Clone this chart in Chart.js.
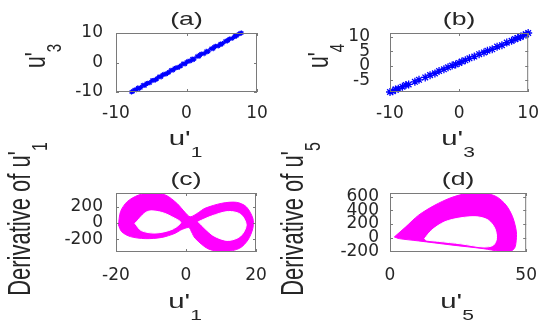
<!DOCTYPE html>
<html>
<head>
<meta charset="utf-8">
<script src="https://cdn.jsdelivr.net/npm/chart.js"></script>
<style>
  body { margin: 0; background: #fff; }
  #wrap { position: relative; width: 550px; height: 324px; }
  canvas { position: absolute; left: 0; top: 0; }
</style>
</head>
<body>
<div id="wrap">
  <canvas id="chartA" width="550" height="324"></canvas>
  <canvas id="chartB" width="550" height="324"></canvas>
  <canvas id="chartC" width="550" height="324"></canvas>
  <canvas id="chartD" width="550" height="324"></canvas>
</div>
<script>
// (a) u'3 against u'1
const u1A = [-7.8,-7.6,-7.4,-7.1,-6.9,-6.7,-6.5,-6.2,-5.9,-5.7,-5.5,-5.2,-4.9,-4.6,-4.4,-4.2,-3.9,-3.6,-3.4,-3.2,-2.9,-2.7,-2.5,-2.2,-1.9,-1.7,-1.5,-1.2,-1.0,-0.8,-0.5,-0.2,0.0,0.2,0.5,0.8,0.9,1.1,1.5,1.8,1.9,2.1,2.5,2.8,2.9,3.1,3.5,3.8,3.9,4.1,4.5,4.8,4.9,5.1,5.5,5.8,5.9,6.1,6.5,6.8,6.9,7.1,7.4,7.6,7.8];
const u3A = [-10.0,-9.8,-9.3,-9.2,-8.6,-8.8,-8.5,-7.7,-7.8,-7.2,-7.0,-6.9,-6.1,-6.0,-5.9,-5.5,-4.8,-4.9,-4.2,-4.0,-3.9,-3.6,-3.3,-2.6,-2.6,-2.0,-1.8,-1.7,-1.4,-1.1,-0.4,-0.5,0.1,0.4,0.5,1.2,0.9,1.2,2.1,2.1,2.6,2.9,3.0,3.8,3.6,3.8,4.7,4.7,5.2,5.5,5.6,6.3,6.1,6.4,7.2,7.3,7.6,8.0,8.2,8.8,8.9,9.0,9.6,9.9,10.0];

// (b) u'4 against u'3
const u3B = [-10.0,-9.6,-9.2,-8.8,-8.2,-7.7,-7.3,-6.4,-5.8,-4.9,-4.2,-3.5,-2.9,-2.2,-1.6,-1.0,-0.5,0.0,0.4,0.9,1.5,2.2,2.9,3.6,4.1,4.8,5.5,6.2,6.9,7.6,8.1,8.5,8.9,9.3,9.7,10.0];
const u4B = [-9.0,-8.7,-8.1,-7.9,-7.2,-6.6,-6.4,-5.5,-4.8,-4.0,-3.2,-2.6,-1.8,-1.2,-0.5,0.1,0.5,1.0,1.5,1.9,2.6,3.2,4.0,4.6,5.2,5.7,6.6,7.1,8.0,8.6,9.2,9.6,9.9,10.5,10.8,11.3];

// (c) derivative of u'1 against u'1 : outline of the band and its two holes
const outerCX = [-19.3,-18.7,-16.8,-13.5,-10.2,-5.9,-2.6,-0.3,1.2,3.5,5.4,10.2,14.4,17.2,19.1,19.1,17.7,15.3,11.1,6.4,2.6,1.6,0.8,-1.5,-3.1,-6.9,-11.6,-15.9,-18.4,-19.3];
const outerCY = [-24,138,259,340,364,340,239,130,75,125,178,239,251,198,57,-64,-206,-307,-347,-315,-185,-110,-55,-85,-125,-175,-190,-165,-105,-24];
const holeLX = [-14.6,-11.0,-6.9,-3.4,-1.5,-4.0,-8.8,-12.8,-14.6];
const holeLY = [-4,140,128,62,5,-78,-122,-92,-4];
const holeRX = [3.5,7.3,12.1,15.6,17.2,15.6,12.1,8.1,5.4,3.5];
const holeRY = [15,85,140,105,-24,-158,-212,-160,-66,15];

// (d) derivative of u'5 against u'5
const outerDX = [1.6,5.8,10.5,16.5,22.4,28.4,34.3,39.1,42.6,45.0,46.4,46.2,45.6,43.7,40.2,34.3,22.4,10.5,3.4,1.6];
const outerDY = [10,158,330,478,587,651,656,602,478,306,84,-89,-163,-209,-202,-163,-108,-49,-15,10];
const holeDX = [12.7,15.3,20.1,26.0,31.9,36.1,38.5,39.1,37.9,34.3,26.0,17.7,13.2,12.7];
const holeDY = [-15,108,232,291,306,256,133,-15,-114,-138,-92,-55,-35,-15];

// tick values
const ticksA = { x: [-10, 0, 10], y: [-10, 0, 10] };
const ticksB = { x: [-10, 0, 10], y: [-5, 0, 5, 10] };
const ticksC = { x: [-20, 0, 20], y: [-200, 0, 200] };
const ticksD = { x: [0, 50], y: [-200, 0, 200, 400, 600] };

const BLUE = '#0000ff';
const MAGENTA = '#ff00ff';
const STRETCH = 1.4;

Chart.defaults.font.family = '"DejaVu Sans", sans-serif';
Chart.defaults.font.size = 17;
Chart.defaults.color = '#262626';

const pts = (xs, ys) => xs.map((v, i) => ({ x: v, y: ys[i] }));

function stars(xs, ys, r, bw) {
  return { data: pts(xs, ys), pointStyle: 'star', pointRadius: r, borderColor: BLUE,
           backgroundColor: BLUE, borderWidth: bw, showLine: false, clip: false };
}

function shape(xs, ys, col, order) {
  return { data: pts(xs, ys), showLine: true, fill: 'shape', tension: 0.3, pointRadius: 0,
           borderColor: col, backgroundColor: col, borderWidth: 1, order: order };
}

// text squeezed like the source figure (it was stretched sideways)
function label(ctx, main, sub, x, y, size, vertical) {
  ctx.save();
  ctx.translate(x, y);
  ctx.scale(STRETCH, 1);
  if (vertical) ctx.rotate(-Math.PI / 2);
  const subSize = Math.round(size * 0.72);
  ctx.font = size + 'px "Liberation Sans"';
  const w1 = ctx.measureText(main).width;
  ctx.font = subSize + 'px "Liberation Sans"';
  const w2 = sub ? ctx.measureText(sub).width : 0;
  const start = -(w1 + w2) / 2;
  ctx.fillStyle = '#262626';
  ctx.textAlign = 'left';
  ctx.textBaseline = 'alphabetic';
  ctx.font = size + 'px "Liberation Sans"';
  ctx.fillText(main, start, 0);
  if (sub) {
    ctx.font = subSize + 'px "Liberation Sans"';
    ctx.fillText(sub, start + w1, size * 0.55);
  }
  ctx.restore();
}

const frame = {
  id: 'frame',
  afterDatasetsDraw(chart, args, o) {
    const { ctx, chartArea: a } = chart;
    const sx = chart.scales.x, sy = chart.scales.y;
    ctx.save();
    ctx.strokeStyle = '#7a7a7a';
    ctx.lineWidth = 1;
    ctx.strokeRect(a.left + 0.5, a.top + 0.5, a.width - 1, a.height - 1);
    ctx.beginPath();
    sx.ticks.forEach(t => {
      const p = Math.round(sx.getPixelForValue(t.value)) + 0.5;
      ctx.moveTo(p, a.bottom); ctx.lineTo(p, a.bottom - 3);
      ctx.moveTo(p, a.top); ctx.lineTo(p, a.top + 3);
    });
    sy.ticks.forEach(t => {
      const p = Math.round(sy.getPixelForValue(t.value)) + 0.5;
      ctx.moveTo(a.left, p); ctx.lineTo(a.left + 3, p);
      ctx.moveTo(a.right, p); ctx.lineTo(a.right - 3, p);
    });
    ctx.stroke();
    ctx.restore();

    label(ctx, o.title, '', (a.left + a.right) / 2, a.top - 8, 19, false);
    label(ctx, o.xl[0], o.xl[1], (a.left + a.right) / 2 - 1, a.bottom + o.xOff, 21, false);
    label(ctx, o.yl[0], o.yl[1], a.left - o.yOff, o.yMid, o.ySize, true);
  }
};

function plot(id, box, xr, yr, ticks, pad, datasets, text) {
  const W = 60, H = 40;
  return new Chart(document.getElementById(id), {
    type: 'scatter',
    data: { datasets: datasets },
    options: {
      responsive: false,
      animation: false,
      events: [],
      layout: { padding: { left: box[0] - W, top: box[2], right: 550 - box[1], bottom: 324 - box[3] - H } },
      plugins: { legend: { display: false }, tooltip: { enabled: false }, frame: text },
      scales: {
        x: {
          type: 'linear', min: xr[0], max: xr[1],
          afterFit: s => { s.height = H; },
          afterBuildTicks: s => { s.ticks = ticks.x.map(v => ({ value: v })); },
          grid: { display: false, drawTicks: false }, border: { display: false },
          ticks: { padding: pad[0], autoSkip: false, maxRotation: 0 }
        },
        y: {
          type: 'linear', min: yr[0], max: yr[1],
          afterFit: s => { s.width = W; },
          afterBuildTicks: s => { s.ticks = ticks.y.map(v => ({ value: v })); },
          grid: { display: false, drawTicks: false }, border: { display: false },
          ticks: { padding: pad[1], autoSkip: false }
        }
      }
    },
    plugins: [frame]
  });
}

plot('chartA', [116, 257, 33, 92], [-10, 10], [-10, 10], ticksA, [11, 13],
  [stars(u1A, u3A, 2.5, 1.1)],
  { title: '(a)', xl: ["u'", '1'], xOff: 53, yl: ["u'", '3'], yOff: 71, yMid: 56, ySize: 21 });

plot('chartB', [390, 530, 33, 92], [-10, 10], [-9, 11.3], ticksB, [11, 20],
  [stars(u3B, u4B, 4, 1.3)],
  { title: '(b)', xl: ["u'", '3'], xOff: 53, yl: ["u'", '4'], yOff: 62, yMid: 56, ySize: 21 });

plot('chartC', [116, 256, 193, 252], [-20, 20], [-352, 364], ticksC, [13, 13],
  [shape(holeLX, holeLY, '#ffffff', 1), shape(holeRX, holeRY, '#ffffff', 1), shape(outerCX, outerCY, MAGENTA, 2)],
  { title: '(c)', xl: ["u'", '1'], xOff: 56, yl: ["Derivative of u'", '1'], yOff: 86, yMid: 219, ySize: 22 });

plot('chartD', [390, 530, 193, 252], [0, 50], [-212, 656], ticksD, [13, 11],
  [shape(holeDX, holeDY, '#ffffff', 1), shape(outerDX, outerDY, MAGENTA, 2)],
  { title: '(d)', xl: ["u'", '5'], xOff: 56, yl: ["Derivative of u'", '5'], yOff: 87, yMid: 219, ySize: 22 });
</script>
</body>
</html>
